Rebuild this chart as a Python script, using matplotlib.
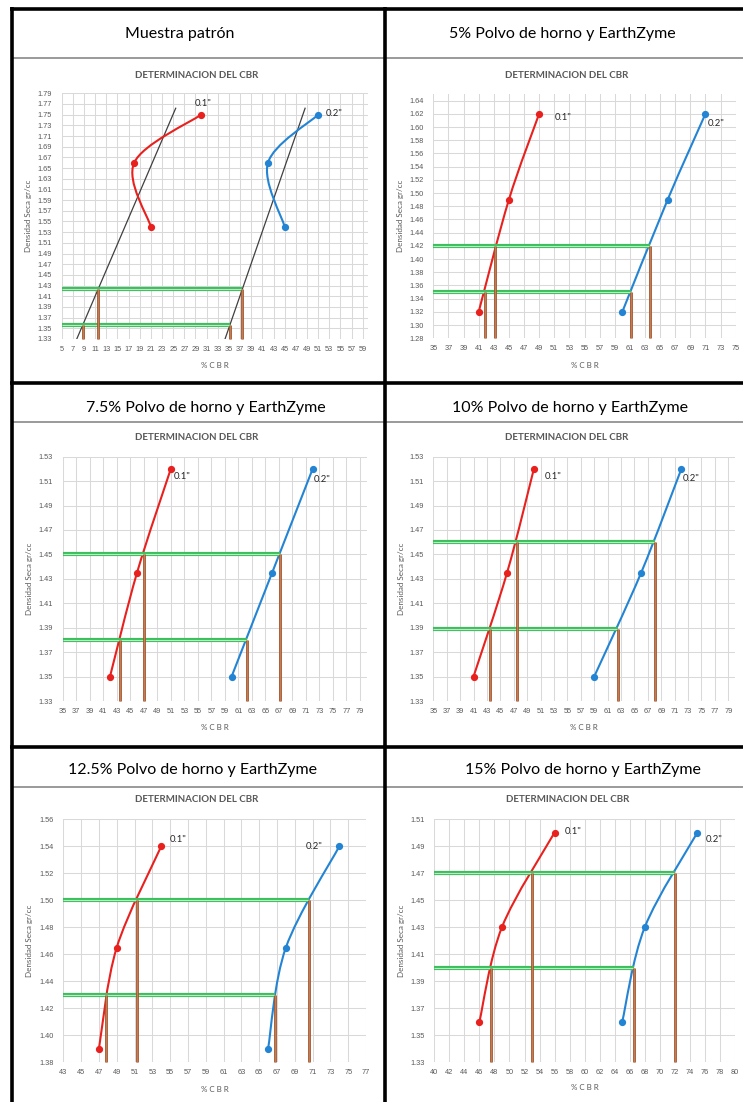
import numpy as np
import matplotlib
matplotlib.use("Agg")
import matplotlib.pyplot as plt
from matplotlib.lines import Line2D
from matplotlib.path import Path
from matplotlib.patches import PathPatch

W, H = 743, 1102
plt.rcParams["font.family"] = ["Lato", "DejaVu Sans"]

# ── Data ──────────────────────────────────────────────────────────────────────
panel_titles = [
    "Muestra patrón",
    "5% Polvo de horno y EarthZyme",
    "7.5% Polvo de horno y EarthZyme",
    "10% Polvo de horno y EarthZyme",
    "12.5% Polvo de horno y EarthZyme",
    "15% Polvo de horno y EarthZyme",
]

# dry density (gr/cc) and CBR at 0.1" and 0.2" penetration
dens = [
    [1.54, 1.66, 1.75],
    [1.32, 1.49, 1.62],
    [1.35, 1.435, 1.52],
    [1.35, 1.435, 1.52],
    [1.39, 1.465, 1.54],
    [1.36, 1.43, 1.50],
]
cbr_01 = [
    [21, 18, 30],
    [41, 45, 49],
    [42, 46, 51],
    [41, 46, 50],
    [47, 49, 54],
    [46, 49, 56],
]
cbr_02 = [
    [45, 42, 51],
    [60, 66, 71],
    [60, 66, 72],
    [59, 66, 72],
    [66, 68, 74],
    [65, 68, 75],
]

# axis ranges
x_ranges = [(5, 60), (35, 75), (35, 80), (35, 80), (43, 77), (40, 80)]
y_ranges = [(1.33, 1.79), (1.28, 1.65), (1.33, 1.53), (1.33, 1.53), (1.38, 1.56), (1.33, 1.51)]

# read-off densities (green) and resulting CBR values (brown)
read_dens = [(1.356, 1.423), (1.35, 1.42), (1.38, 1.45), (1.389, 1.46), (1.43, 1.50), (1.40, 1.47)]
read_cbr_01 = [(8.8, 11.5), (41.8, 43.1), (43.5, 47.0), (43.5, 47.5), (47.8, 51.3), (47.5, 53.0)]
read_cbr_02 = [(35.2, 37.4), (61.2, 63.6), (62.3, 67.2), (62.5, 68.1), (66.8, 70.6), (66.6, 72.0)]

# hand-drawn straight lines on the first chart
trend_x = [[7.7, 25.45], [34.3, 48.66]]
trend_y = [[1.33, 1.762], [1.33, 1.762]]

# ── Layout (pixels, top-left origin) ─────────────────────────────────────────
ax_boxes = [
    (61.7, 93.3, 368.3, 339.0),
    (433.3, 94.0, 735.7, 338.3),
    (62.7, 456.7, 366.7, 701.0),
    (433.3, 456.7, 735.0, 701.0),
    (63.3, 819.3, 366.0, 1062.3),
    (434.3, 819.0, 735.0, 1062.3),
]
header_pos = [(180, 34), (562, 34), (206, 408), (570, 408), (192, 770), (583, 770)]
title_pos = [(197, 75), (567, 75), (197, 438), (567, 438), (197, 800), (568, 800)]
xlabel_y = [365, 365, 727, 727, 1089, 1088]
ylabel_x = [29, 400, 30, 401, 30, 401]
label_01 = [(28.9, 1.771), (51.1, 1.615), (51.5, 1.5136), (51.6, 1.514), (55.0, 1.5447), (57.3, 1.501)]
label_02 = [(52.4, 1.7525), (71.3, 1.606), (72.2, 1.5115), (72.2, 1.5125), (70.2, 1.540), (76.1, 1.4945)]

RED = "#E8211E"
BLUE = "#2384D4"
GREEN = "#3DBE5C"
GREEN_IN = "#B9EBC5"
BROWN = "#A4542A"
BROWN_IN = "#CF9066"
GRID = "#D9D9D9"
TXT = "#595959"
SMALL_FONT = ["Liberation Sans", "DejaVu Sans"]


def fx(x):
    return x / W


def fy(y):
    return 1 - y / H


def smooth_path(ax, xs, ys):
    """Excel-like smoothed line (Catmull-Rom Bezier in display space)."""
    pts = ax.transData.transform(np.column_stack([xs, ys]))
    n = len(pts)
    verts = [pts[0]]
    codes = [Path.MOVETO]
    for i in range(n - 1):
        p0, p1 = pts[max(i - 1, 0)], pts[i]
        p2, p3 = pts[i + 1], pts[min(i + 2, n - 1)]
        verts += [p1 + (p2 - p0) / 6, p2 - (p3 - p1) / 6, p2]
        codes += [Path.CURVE4] * 3
    verts = ax.transData.inverted().transform(np.array(verts))
    return Path(verts, codes)


fig = plt.figure(figsize=(W / 100, H / 100), dpi=100)

# ── Table borders ─────────────────────────────────────────────────────────────
def hline(y, x0, x1, color="black", lw=2.6):
    fig.add_artist(Line2D([fx(x0), fx(x1)], [fy(y), fy(y)], color=color, lw=lw,
                          solid_capstyle="butt"))


def vline(x, y0, y1, color="black", lw=2.6):
    fig.add_artist(Line2D([fx(x), fx(x)], [fy(y0), fy(y1)], color=color, lw=lw,
                          solid_capstyle="butt"))


for y in (58, 422, 787):
    hline(y, 12, W, color="#9A9A9A", lw=1.4)

# ── Charts ────────────────────────────────────────────────────────────────────
for i in range(6):
    l, t, r, b = ax_boxes[i]
    ax = fig.add_axes([fx(l), fy(b), (r - l) / W, (b - t) / H])
    x0, x1 = x_ranges[i]
    y0, y1 = y_ranges[i]
    ax.set_xlim(x0, x1)
    ax.set_ylim(y0, y1)
    xt = np.arange(x0, x1 + 1e-9, 2)
    ax.set_xticks(xt)
    ax.set_xticklabels([f"{v:g}" for v in xt], family=SMALL_FONT)
    yt = np.round(np.arange(y0, y1 + 1e-9, 0.02), 3)
    ax.set_yticks(yt)
    ax.set_yticklabels([f"{v:.2f}" for v in yt], family=SMALL_FONT)
    ax.tick_params(length=0, labelsize=5.3, labelcolor=TXT)
    ax.tick_params(axis="y", pad=7)
    ax.tick_params(axis="x", pad=5)
    for s in ax.spines.values():
        s.set_visible(False)
    ax.grid(True, color=GRID, lw=0.75)
    ax.set_axisbelow(True)

    if i == 0:
        for tx, ty in zip(trend_x, trend_y):
            ax.plot(tx, ty, color="#404040", lw=0.9, zorder=2)

    for xs, color in ((cbr_01[i], RED), (cbr_02[i], BLUE)):
        ax.add_patch(PathPatch(smooth_path(ax, xs, dens[i]), fill=False,
                               edgecolor=color, lw=1.5, zorder=3))
        ax.plot(xs, dens[i], "o", color=color, ms=4.2, zorder=4)

    for d, c1, c2 in zip(read_dens[i], read_cbr_01[i], read_cbr_02[i]):
        ax.plot([x0, c2], [d, d], color=GREEN, lw=3.0, solid_capstyle="butt", zorder=5)
        ax.plot([x0, c2], [d, d], color=GREEN_IN, lw=0.8, solid_capstyle="butt", zorder=5)
        for c in (c1, c2):
            ax.plot([c, c], [y0, d], color=BROWN, lw=2.0, solid_capstyle="butt",
                    zorder=6, clip_on=False)
            ax.plot([c, c], [y0, d], color=BROWN_IN, lw=0.5, solid_capstyle="butt",
                    zorder=6, clip_on=False)

    ax.text(*label_01[i], '0.1"', fontsize=6.8, color="#262626", ha="left", va="center")
    ax.text(*label_02[i], '0.2"', fontsize=6.8, color="#262626", ha="left", va="center")

    fig.text(fx(title_pos[i][0]), fy(title_pos[i][1]), "DETERMINACION DEL CBR",
             fontsize=7.0, fontweight="bold", color=TXT, ha="center", va="center")
    fig.text(fx((l + r) / 2), fy(xlabel_y[i]), "% C B R", fontsize=5.8, color=TXT,
             ha="center", va="center")
    fig.text(fx(ylabel_x[i]), fy((t + b) / 2), "Densidad Seca gr/cc", fontsize=5.8,
             color=TXT, ha="center", va="center", rotation=90)
    fig.text(fx(header_pos[i][0]), fy(header_pos[i][1]), panel_titles[i],
             fontsize=11.5, color="black", ha="center", va="center")

# thick black table lines on top
hline(8.5, 10, W)
hline(382.5, 10, W)
hline(746.5, 10, W)
vline(11.5, 7, H)
vline(385, 7, H)

fig.savefig("out.png", dpi=100)
